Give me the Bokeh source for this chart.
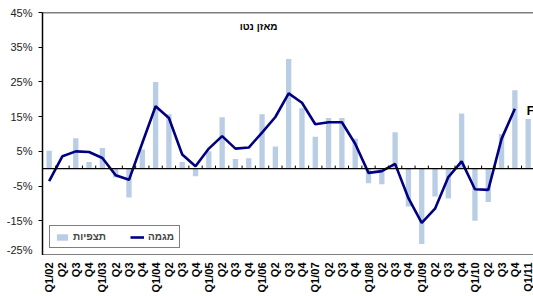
from math import pi
from bokeh.plotting import figure
from bokeh.layouts import column
from bokeh.core.properties import value
from bokeh.models import (ColumnDataSource, FixedTicker, PrintfTickFormatter, Span,
                          Label, Legend, LegendItem, Range1d)
from bokeh.embed import file_html
from bokeh.resources import INLINE

quarters = ["Q1/02", "Q2", "Q3", "Q4",
            "Q1/03", "Q2", "Q3", "Q4",
            "Q1/04", "Q2", "Q3", "Q4",
            "Q1/05", "Q2", "Q3", "Q4",
            "Q1/06", "Q2", "Q3", "Q4",
            "Q1/07", "Q2", "Q3", "Q4",
            "Q1/08", "Q2", "Q3", "Q4",
            "Q1/09", "Q2", "Q3", "Q4",
            "Q1/10", "Q2", "Q3", "Q4",
            "Q1/11"]

observations = [5.2, 0.0, 8.8, 1.9, 6.0, -2.5, -8.3, 5.5, 25.0, 15.7, 1.9, -2.2,
                5.0, 14.8, 2.8, 3.0, 15.7, 6.4, 31.6, 17.4, 9.2, 14.6, 14.6, 8.6,
                -4.2, -4.5, 10.5, -10.9, -21.7, -8.0, -8.6, 15.9, -15.0, -9.6, 10.0,
                22.6, 14.3]

trend = [-3.6, 3.6, 5.0, 4.8, 3.1, -1.9, -3.2, 7.4, 18.0, 14.6, 4.1, 0.7,
         5.8, 9.4, 5.8, 6.1, 10.4, 14.9, 21.7, 19.0, 12.8, 13.4, 13.4, 7.2,
         -1.2, -0.7, 1.4, -8.5, -15.6, -11.5, -2.4, 2.1, -5.9, -6.1, 8.6,
         17.3, float("nan")]

y_ticks = [-25, -15, -5, 5, 15, 25, 35, 45]
Y_MIN, Y_MAX = -25, 45

legend_bars = "תצפיות"
legend_line = "מגמה"
inner_label = "מאזן נטו"

FONT = "Liberation Sans"
BAR_COLOR = "#B9CDE5"
LINE_COLOR = "#000080"

W = 533
MAIN_H = 255
LAB_H = 41
LAB_GAP = 7
LEFT = 42

n = len(quarters)
xs = [i + 0.5 for i in range(n)]
src = ColumnDataSource(dict(x=xs, obs=observations, trend=trend, label=quarters))

xr = Range1d(0, 36.9)
p = figure(width=W, height=MAIN_H, output_backend="svg", toolbar_location=None,
           x_range=xr, y_range=Range1d(Y_MIN, Y_MAX),
           min_border_left=LEFT, min_border_right=0, min_border_top=12,
           min_border_bottom=0)
p.grid.visible = False
p.outline_line_color = None
p.background_fill_color = "white"
p.border_fill_color = "white"
p.xaxis.visible = False

bars = p.vbar(x="x", top="obs", width=0.4, source=src, fill_color=BAR_COLOR,
              line_color=None)
ln = p.line(x="x", y="trend", source=src, line_color=LINE_COLOR, line_width=2.6)

# frame lines and zero line with small category ticks
p.add_layout(Span(location=0, dimension="width", line_color="black", line_width=1.3))
p.add_layout(Span(location=Y_MAX, dimension="width", line_color="black", line_width=1.5))
p.add_layout(Span(location=Y_MIN, dimension="width", line_color="black", line_width=2))
bounds = list(range(1, n))
p.segment(x0=bounds, y0=[0] * len(bounds), x1=bounds, y1=[0.9] * len(bounds),
          line_color="black", line_width=1)

# y axis
p.yaxis.ticker = FixedTicker(ticks=y_ticks)
p.yaxis.formatter = PrintfTickFormatter(format="%d%%")
p.yaxis.major_label_text_font = FONT
p.yaxis.major_label_text_font_size = "11px"
p.yaxis.major_label_text_color = "#222222"
p.yaxis.axis_line_color = "black"
p.yaxis.axis_line_width = 1.5
p.yaxis.major_tick_line_color = "black"
p.yaxis.major_tick_out = 4
p.yaxis.major_tick_in = 0
p.yaxis.minor_tick_line_color = None
p.yaxis.minor_tick_out = 0
p.yaxis.major_label_standoff = 6

p.add_layout(Label(x=16.24, y=41, text=inner_label, text_align="center",
                   text_baseline="middle", text_font=FONT, text_font_size="10px",
                   text_font_style="bold", text_color="black"))
p.add_layout(Label(x=36.4, y=16.7, text="F", text_align="left",
                   text_baseline="middle", text_font=FONT, text_font_size="12px",
                   text_font_style="bold", text_color="black"))

legend = Legend(items=[LegendItem(label=legend_bars, renderers=[bars]),
                       LegendItem(label=legend_line, renderers=[ln])],
                orientation="horizontal", location=(7, 7))
legend.border_line_color = "black"
legend.border_line_width = 1
legend.background_fill_color = "white"
legend.background_fill_alpha = 1
legend.label_text_font = FONT
legend.label_text_font_size = "10px"
legend.label_text_font_style = "bold"
legend.glyph_width = 14
legend.glyph_height = 8
legend.label_height = 8
legend.label_standoff = 4
legend.spacing = 24
legend.padding = 5
legend.margin = 0
p.add_layout(legend)

# strip of vertical category labels under the plot, sharing the x range
p2 = figure(width=W, height=LAB_H, output_backend="svg", toolbar_location=None,
            x_range=xr, y_range=Range1d(0, LAB_H),
            min_border_left=LEFT, min_border_right=0, min_border_top=0,
            min_border_bottom=0)
p2.axis.visible = False
p2.grid.visible = False
p2.outline_line_color = None
p2.background_fill_color = "white"
p2.border_fill_color = "white"
p2.text(x="x", y=LAB_H - LAB_GAP, text="label", source=src, angle=pi / 2,
        text_align="right", text_baseline="middle", text_font=value(FONT),
        text_font_size="11px", text_font_style="bold", text_color="black")

layout = column(p, p2, spacing=0)
open("out.html", "w").write(file_html(layout, INLINE))
